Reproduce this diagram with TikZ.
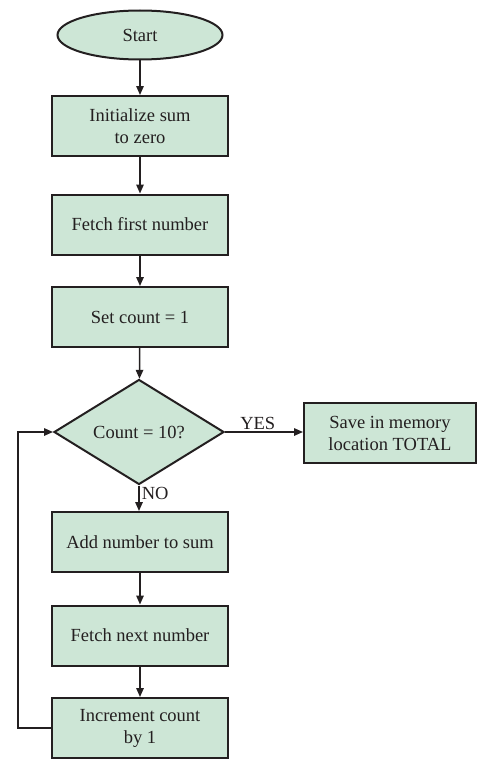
\documentclass[tikz,border=0pt]{standalone}
\usepackage{fontspec}
\setmainfont{Liberation Serif}
\usetikzlibrary{arrows.meta, shapes.geometric, positioning}
\definecolor{FlowGreen}{RGB}{205, 230, 214}
\definecolor{FlowInk}{RGB}{35, 31, 32}

\begin{document}
\begin{tikzpicture}[x=1pt, y=-1pt,
	blk/.style={rectangle, draw=FlowInk, line width=2pt, fill=FlowGreen, text=FlowInk, align=center,
		font=\fontsize{18.5}{22}\selectfont, minimum width=176pt, minimum height=60pt, inner sep=0pt},
	term/.style={blk, ellipse, minimum width=165pt, minimum height=49pt},
	dec/.style={blk, diamond, aspect=1.6, minimum width=170pt, minimum height=105pt},
	arr/.style={draw=FlowInk, line width=1.5pt, -{Triangle[length=9pt, width=7.5pt]}},
	lbl/.style={text=FlowInk, font=\fontsize{18.5}{22}\selectfont, inner sep=2pt}]
	\useasboundingbox (0,0) rectangle (477,760);
	\node[term] (start) at (140,35) {Start};
	\node[blk] (init) at (140,126) {Initialize sum\\to zero};
	\node[blk] (first) at (140,224.5) {Fetch first number};
	\node[blk] (setc) at (140,317) {Set count = 1};
	\node[dec] (cnt) at (139,432) {Count = 10?};
	\node[blk, minimum width=172pt] (save) at (390,433) {Save in memory\\location TOTAL};
	\node[blk] (add) at (140,542) {Add number to sum};
	\node[blk] (next) at (140,635.5) {Fetch next number};
	\node[blk] (incr) at (140,728) {Increment count\\by 1};
	\draw[arr] (start) -- (init);
	\draw[arr] (init) -- (first);
	\draw[arr] (first) -- (setc);
	\draw[arr] (setc) -- (cnt);
	\draw[arr] (cnt.east) -- node[lbl, above, pos=0.42] (yes) {YES} (save.west |- cnt.east);
	\draw[arr] (cnt.south) -- node[lbl, right, pos=0.3] (no) {NO} (add.north -| cnt.south);
	\draw[arr] (add) -- (next);
	\draw[arr] (next) -- (incr);
	\draw[arr] (incr.west) -- ++(-33,0) |- (cnt.west);
\end{tikzpicture}
\end{document}
